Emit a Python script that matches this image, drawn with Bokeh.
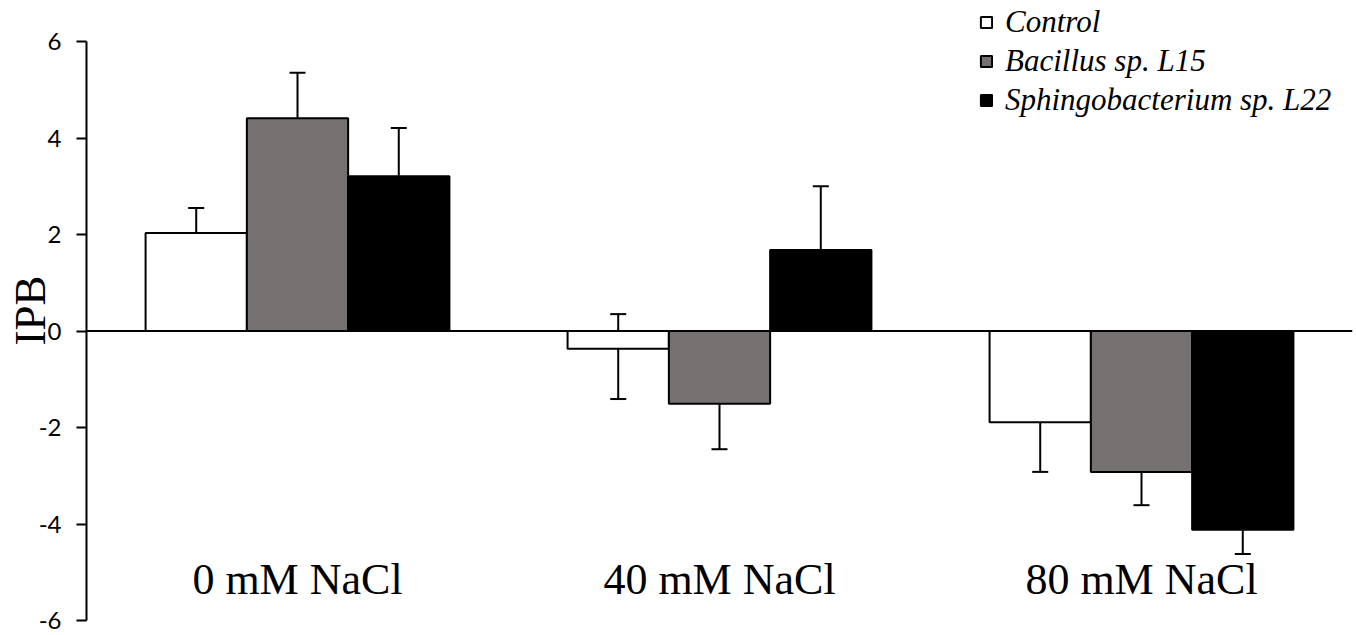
from bokeh.plotting import figure
from bokeh.models import (ColumnDataSource, Whisker, TeeHead, Span, Legend,
                          LegendItem, FixedTicker, Range1d, PrintfTickFormatter)
from bokeh.core.properties import value
from bokeh.embed import file_html
from bokeh.resources import INLINE

# ---- data ----
categories = ["0 mM NaCl", "40 mM NaCl", "80 mM NaCl"]
series = ["Control", "Bacillus sp. L15", "Sphingobacterium sp. L22"]
colors = ["#ffffff", "#767171", "#000000"]

control = [2.03, -0.37, -1.89]
control_hi = [2.55, 0.35, -1.20]
control_lo = [0.97, -1.41, -2.92]

bacillus = [4.41, -1.51, -2.92]
bacillus_hi = [5.35, -0.58, -2.26]
bacillus_lo = [3.44, -2.45, -3.61]

sphingo = [3.21, 1.68, -4.12]
sphingo_hi = [4.21, 3.00, -3.62]
sphingo_lo = [2.21, 0.36, -4.62]

y_ticks = [-6, -4, -2, 0, 2, 4, 6]
y_label = "IPB"

# ---- layout constants ----
BAR_W = 0.24
offsets = [-BAR_W, 0.0, BAR_W]
LABEL_Y = -5.15

p = figure(width=1356, height=635, output_backend="svg", toolbar_location=None,
           x_range=Range1d(0, 3), y_range=Range1d(-6, 6.85),
           min_border_left=86, min_border_right=4, min_border_top=0, min_border_bottom=15)
p.outline_line_color = None
p.xgrid.visible = False
p.ygrid.visible = False
p.xaxis.visible = False
p.background_fill_color = "white"
p.border_fill_color = "white"

yax = p.yaxis[0]
yax.bounds = (y_ticks[0], y_ticks[-1])
yax.ticker = FixedTicker(ticks=y_ticks)
yax.formatter = PrintfTickFormatter(format="%d")
yax.major_tick_out = 10
yax.major_tick_in = 0
yax.minor_tick_out = 0
yax.minor_tick_in = 0
yax.axis_line_width = 2
yax.major_tick_line_width = 2
yax.major_label_text_font = "Lato"
yax.major_label_text_font_size = "24px"
yax.major_label_text_color = "black"
yax.major_label_standoff = 15
yax.axis_label = y_label
yax.axis_label_text_font = "Liberation Serif"
yax.axis_label_text_font_style = "normal"
yax.axis_label_text_font_size = "45px"
yax.axis_label_text_color = "black"
yax.axis_label_standoff = -19

vals = [control, bacillus, sphingo]
his = [control_hi, bacillus_hi, sphingo_hi]
los = [control_lo, bacillus_lo, sphingo_lo]

centers = [i + 0.5 for i in range(len(categories))]

items = []
sources = []
for name, col, v, hi, lo, off in zip(series, colors, vals, his, los, offsets):
    src = ColumnDataSource(dict(x=[c + off for c in centers], top=v, hi=hi, lo=lo))
    r = p.vbar(x="x", top="top", bottom=0, width=BAR_W, source=src,
               fill_color=col, line_color="black", line_width=2)
    items.append(LegendItem(label=name, renderers=[r]))
    sources.append(src)

zero = Span(location=0, dimension="width", line_color="black", line_width=2)
p.add_layout(zero)

for src in sources:
    w = Whisker(base="x", upper="hi", lower="lo", source=src, line_width=2, line_color="black",
                upper_head=TeeHead(size=16, line_width=2, line_color="black"),
                lower_head=TeeHead(size=16, line_width=2, line_color="black"))
    p.add_layout(w)

# category labels
p.text(x=centers, y=[LABEL_Y] * len(categories), text=categories,
       text_font=value("Liberation Serif"), text_font_size="44px",
       text_align="center", text_baseline="middle", text_color="black")

legend = Legend(items=items, location=(893, 502), padding=0, margin=0, spacing=3,
                label_text_font="Liberation Serif", label_text_font_style="italic",
                label_text_font_size="31px", label_text_color="black",
                label_height=36, label_standoff=12,
                glyph_width=14, glyph_height=14,
                border_line_color=None, background_fill_alpha=0)
p.add_layout(legend)

open("out.html", "w").write(file_html(p, INLINE))
